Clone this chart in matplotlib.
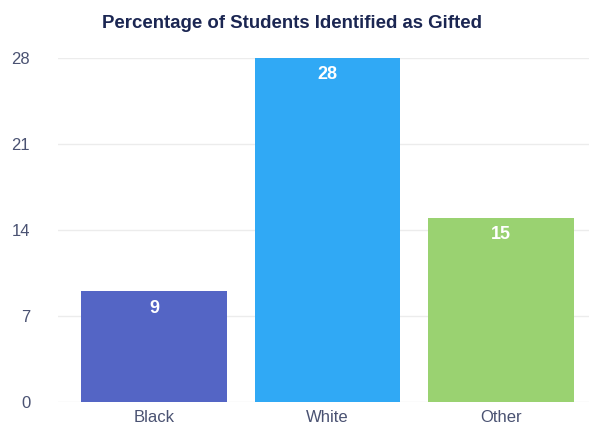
import numpy as np
from matplotlib import pyplot as plt

groups = ['Black', 'White', 'Other']
gifted_pct = [9, 28, 15]
bar_colors = ['#5465c5', '#30a9f5', '#9ad271']
y_ticks = [0, 7, 14, 21, 28]

plt.rcParams['font.family'] = ['Liberation Sans', 'DejaVu Sans']

fig = plt.figure(figsize=(5.89, 4.28), dpi=100)
ax = fig.add_axes([0.0985, 0.0607, 0.9015, 0.8037])

x = np.arange(len(groups))
bars = ax.bar(x, gifted_pct, width=0.84, color=bar_colors, zorder=2)

for rect, val in zip(bars, gifted_pct):
    ax.annotate(str(val), (rect.get_x() + rect.get_width() / 2, val),
                xytext=(0, -12), textcoords='offset points',
                ha='center', va='center', color='white',
                fontsize=13, fontweight='bold', zorder=3)

ax.set_xlim(-0.553, 2.507)
ax.set_ylim(0, 28)
ax.set_xticks(x)
ax.set_xticklabels(groups)
ax.set_yticks(y_ticks)
ax.tick_params(axis='both', length=0, labelsize=12, colors='#4a5272')
ax.tick_params(axis='y', pad=20)
ax.tick_params(axis='x', pad=6)
for lab in ax.get_yticklabels():
    lab.set_horizontalalignment('right')

ax.grid(axis='y', color='#ececec', linewidth=1, zorder=0)
for s in ax.spines.values():
    s.set_visible(False)

fig.text(0.496, 0.944, 'Percentage of Students Identified as Gifted',
         ha='center', va='center', fontsize=13.4, fontweight='bold',
         color='#1b2652')

fig.savefig('out.png', dpi=100)
